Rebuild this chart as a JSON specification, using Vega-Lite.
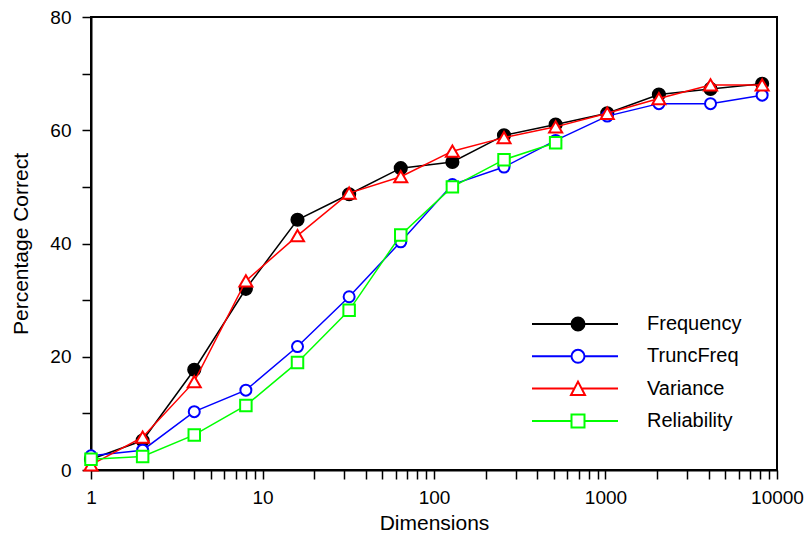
{
  "$schema": "https://vega.github.io/schema/vega-lite/v6.json",
  "width": 686,
  "height": 453,
  "autosize": "none",
  "padding": {"left": 91, "top": 17, "right": 34, "bottom": 63},
  "background": "white",
  "config": {
    "font": "Liberation Sans",
    "view": {"stroke": "black", "strokeWidth": 2},
    "axis": {"grid": false, "domainColor": "black", "domainWidth": 2, "tickColor": "black", "tickWidth": 1.5, "labelColor": "black", "titleColor": "black", "labelFont": "Liberation Sans", "titleFont": "Liberation Sans", "titleFontWeight": "normal"},
    "legend": {"labelFont": "Liberation Sans"}
  },
  "data": {
    "values": [
      {"dim": 1, "series": "Frequency", "value": 1.9},
      {"dim": 2, "series": "Frequency", "value": 5.2},
      {"dim": 4, "series": "Frequency", "value": 17.7},
      {"dim": 8, "series": "Frequency", "value": 32.0},
      {"dim": 16, "series": "Frequency", "value": 44.2},
      {"dim": 32, "series": "Frequency", "value": 48.7},
      {"dim": 64, "series": "Frequency", "value": 53.3},
      {"dim": 128, "series": "Frequency", "value": 54.4},
      {"dim": 256, "series": "Frequency", "value": 59.1},
      {"dim": 512, "series": "Frequency", "value": 61.0},
      {"dim": 1024, "series": "Frequency", "value": 63.0},
      {"dim": 2048, "series": "Frequency", "value": 66.3},
      {"dim": 4096, "series": "Frequency", "value": 67.3},
      {"dim": 8192, "series": "Frequency", "value": 68.2},
      {"dim": 1, "series": "TruncFreq", "value": 2.5},
      {"dim": 2, "series": "TruncFreq", "value": 3.5},
      {"dim": 4, "series": "TruncFreq", "value": 10.3},
      {"dim": 8, "series": "TruncFreq", "value": 14.1},
      {"dim": 16, "series": "TruncFreq", "value": 21.8},
      {"dim": 32, "series": "TruncFreq", "value": 30.6},
      {"dim": 64, "series": "TruncFreq", "value": 40.3},
      {"dim": 128, "series": "TruncFreq", "value": 50.4},
      {"dim": 256, "series": "TruncFreq", "value": 53.5},
      {"dim": 512, "series": "TruncFreq", "value": 58.2},
      {"dim": 1024, "series": "TruncFreq", "value": 62.5},
      {"dim": 2048, "series": "TruncFreq", "value": 64.7},
      {"dim": 4096, "series": "TruncFreq", "value": 64.7},
      {"dim": 8192, "series": "TruncFreq", "value": 66.2},
      {"dim": 1, "series": "Variance", "value": 0.9},
      {"dim": 2, "series": "Variance", "value": 5.8},
      {"dim": 4, "series": "Variance", "value": 15.6},
      {"dim": 8, "series": "Variance", "value": 33.4},
      {"dim": 16, "series": "Variance", "value": 41.4},
      {"dim": 32, "series": "Variance", "value": 48.9},
      {"dim": 64, "series": "Variance", "value": 51.8},
      {"dim": 128, "series": "Variance", "value": 56.3},
      {"dim": 256, "series": "Variance", "value": 58.7},
      {"dim": 512, "series": "Variance", "value": 60.6},
      {"dim": 1024, "series": "Variance", "value": 63.0},
      {"dim": 2048, "series": "Variance", "value": 65.6},
      {"dim": 4096, "series": "Variance", "value": 68.0},
      {"dim": 8192, "series": "Variance", "value": 68.0},
      {"dim": 1, "series": "Reliability", "value": 1.9},
      {"dim": 2, "series": "Reliability", "value": 2.4},
      {"dim": 4, "series": "Reliability", "value": 6.2},
      {"dim": 8, "series": "Reliability", "value": 11.4},
      {"dim": 16, "series": "Reliability", "value": 19.0},
      {"dim": 32, "series": "Reliability", "value": 28.2},
      {"dim": 64, "series": "Reliability", "value": 41.5},
      {"dim": 128, "series": "Reliability", "value": 50.0},
      {"dim": 256, "series": "Reliability", "value": 54.8},
      {"dim": 512, "series": "Reliability", "value": 57.8}
    ]
  },
  "encoding": {
    "x": {
      "field": "dim", "type": "quantitative",
      "scale": {"type": "log", "domain": [1, 10000], "nice": false},
      "axis": {
        "title": "Dimensions", "titleFontSize": 21, "titlePadding": 5,
        "values": [1,2,3,4,5,6,7,8,9,10,20,30,40,50,60,70,80,90,100,200,300,400,500,600,700,800,900,1000,2000,3000,4000,5000,6000,7000,8000,9000,10000],
        "labelExpr": "indexof([1,10,100,1000,10000], datum.value) >= 0 ? format(datum.value, 'd') : ''",
        "labelFontSize": 19, "labelPadding": 9, "labelFlush": false, "labelOverlap": false,
        "tickSize": 9,
        "encode": {"ticks": {"update": {"y2": {"signal": "indexof([1,10,100,1000,10000], datum.value) >= 0 ? 9 : 5"}}}}
      }
    },
    "y": {
      "field": "value", "type": "quantitative",
      "scale": {"domain": [0, 80], "nice": false},
      "axis": {
        "title": "Percentage Correct", "titleFontSize": 21, "titlePadding": 18,
        "values": [0,10,20,30,40,50,60,70,80],
        "labelExpr": "datum.value % 20 === 0 ? datum.label : ''",
        "labelFontSize": 19, "labelPadding": 11, "labelOverlap": false,
        "tickSize": 9,
        "encode": {"ticks": {"update": {"x2": {"signal": "datum.value % 20 === 0 ? -9 : -5"}}}}
      }
    }
  },
  "layer": [
    {
      "transform": [{"filter": "datum.series === 'Frequency'"}],
      "mark": {"type": "line", "strokeWidth": 1.5},
      "encoding": {
        "color": {
          "field": "series", "type": "nominal",
          "scale": {"domain": ["Frequency", "TruncFreq", "Variance", "Reliability"], "range": ["#000000", "#0000ff", "#ff0000", "#00ff00"]},
          "legend": {
            "title": null, "orient": "none", "legendX": 477, "legendY": 297,
            "padding": 0, "rowPadding": 10.3, "labelFontSize": 20, "labelColor": "black",
            "symbolOffset": 0, "labelOffset": 59, "symbolSize": 4, "symbolStrokeWidth": 2,
            "encode": {
              "symbols": {
                "update": {
                  "shape": {"signal": "datum.value === 'Frequency' || datum.value === 'TruncFreq' ? 'M-46,0H-6.5M6.5,0H40M6.5,0A6.5,6.5,0,1,1,-6.5,0A6.5,6.5,0,1,1,6.5,0Z' : datum.value === 'Variance' ? 'M-46,0H-3.5M3.5,0H40M0,-7L7,6.5L-7,6.5Z' : 'M-46,0H-6.5M6.5,0H40M-6.5,-6.5H6.5V6.5H-6.5Z'"},
                  "fill": {"signal": "datum.value === 'Frequency' ? 'black' : 'white'"},
                  "stroke": {"scale": "color", "field": "value"},
                  "strokeWidth": {"value": 2},
                  "size": {"value": 4},
                  "opacity": {"value": 1}
                }
              }
            }
          }
        }
      }
    },
    {
      "transform": [{"filter": "datum.series === 'Frequency'"}],
      "mark": {"type": "point", "shape": "circle", "filled": true, "fill": "black", "stroke": "black", "strokeWidth": 1.5, "size": 160, "opacity": 1}
    },
    {
      "transform": [{"filter": "datum.series === 'TruncFreq'"}],
      "mark": {"type": "line", "strokeWidth": 1.5},
      "encoding": {"color": {"field": "series", "type": "nominal"}}
    },
    {
      "transform": [{"filter": "datum.series === 'TruncFreq'"}],
      "mark": {"type": "point", "shape": "circle", "fill": "white", "stroke": "#0000ff", "strokeWidth": 2, "size": 121, "opacity": 1}
    },
    {
      "transform": [{"filter": "datum.series === 'Variance'"}],
      "mark": {"type": "line", "strokeWidth": 1.5},
      "encoding": {"color": {"field": "series", "type": "nominal"}}
    },
    {
      "transform": [{"filter": "datum.series === 'Variance'"}],
      "mark": {"type": "point", "shape": "triangle-up", "fill": "white", "stroke": "#ff0000", "strokeWidth": 2, "size": 170, "opacity": 1}
    },
    {
      "transform": [{"filter": "datum.series === 'Reliability'"}],
      "mark": {"type": "line", "strokeWidth": 1.5},
      "encoding": {"color": {"field": "series", "type": "nominal"}}
    },
    {
      "transform": [{"filter": "datum.series === 'Reliability'"}],
      "mark": {"type": "point", "shape": "square", "fill": "white", "stroke": "#00ff00", "strokeWidth": 2, "size": 132, "opacity": 1}
    }
  ]
}
